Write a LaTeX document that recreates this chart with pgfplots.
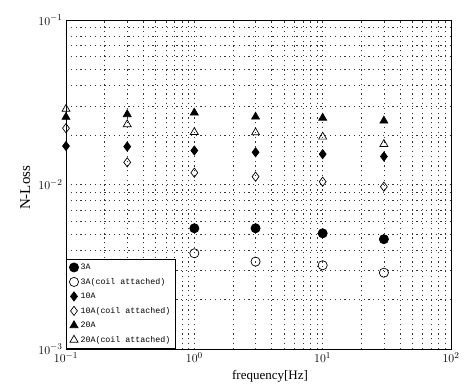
\documentclass[border=0pt]{standalone}
\usepackage{fontspec}
\setmainfont{Liberation Serif}
\newfontfamily\legfont{Liberation Mono}
\usepackage{pgfplots}
\pgfplotsset{compat=1.18}
\begin{document}
\begin{tikzpicture}
\begin{axis}[
  xmode=log, ymode=log,
  scale only axis, width=385pt, height=329pt,
  xmin=0.1, xmax=100, ymin=1e-3, ymax=1e-1,
  grid=both,
  major grid style={black!80, line width=0.55pt, dash pattern=on 1.2pt off 3.6pt},
  minor grid style={black!80, line width=0.55pt, dash pattern=on 1.2pt off 3.6pt},
  axis line style={line width=0.9pt},
  major tick length=0pt, minor tick length=0pt,
  tick label style={font=\fontsize{13}{15}\selectfont},
  xlabel={frequency[Hz]}, ylabel={N-Loss},
  xlabel style={font=\fontsize{13}{15}\selectfont, at={(axis description cs:0.53,-0.082)}, anchor=center},
  ylabel style={font=\fontsize{15}{17}\selectfont, at={(axis description cs:-0.106,0.49)}, anchor=center},
  legend style={at={(0,0)}, anchor=south west, font=\legfont\fontsize{8.3}{9}\selectfont,
    draw=black, line width=0.8pt, fill=white, row sep=3.2pt, inner sep=3pt,
    cells={anchor=west}},
  legend cell align=left,
  every axis plot/.append style={only marks, black, mark size=4.6pt, line width=0.7pt},
]
\addplot[mark=*, mark options={fill=black}] coordinates {(1,0.00542) (3,0.00542) (10,0.00505) (30,0.00465)};
\addlegendentry{3A}
\addplot[mark=o, mark options={fill=white}] coordinates {(1,0.00382) (3,0.0034) (10,0.00323) (30,0.00291)};
\addlegendentry{3A(coil attached)}
\addplot[mark=diamond*, mark options={fill=black}] coordinates {(0.1,0.01714) (0.3,0.0170) (1,0.0161) (3,0.0157) (10,0.0153) (30,0.0148)};
\addlegendentry{10A}
\addplot[mark=diamond, mark options={fill=white}] coordinates {(0.1,0.0220) (0.3,0.01364) (1,0.0118) (3,0.01116) (10,0.0104) (30,0.0097)};
\addlegendentry{10A(coil attached)}
\addplot[mark=triangle*, mark options={fill=black}] coordinates {(0.1,0.0257) (0.3,0.0267) (1,0.0273) (3,0.0258) (10,0.0254) (30,0.0244)};
\addlegendentry{20A}
\addplot[mark=triangle, mark options={fill=white}] coordinates {(0.1,0.02877) (0.3,0.0232) (1,0.0208) (3,0.0207) (10,0.0195) (30,0.0176)};
\addlegendentry{20A(coil attached)}
\end{axis}
\path[use as bounding box] ([xshift=-66pt,yshift=-38pt]current axis.south west) rectangle ([xshift=16pt,yshift=20pt]current axis.north east);
\end{tikzpicture}
\end{document}
